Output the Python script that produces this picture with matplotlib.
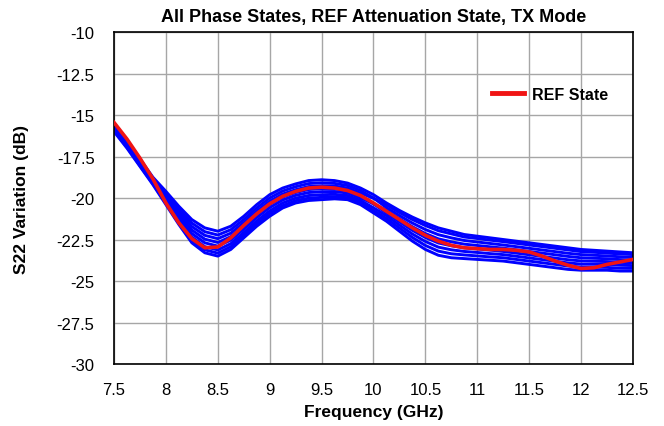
import matplotlib
matplotlib.use("Agg")
import matplotlib.pyplot as plt

plt.rcParams['font.family'] = ['Liberation Sans', 'DejaVu Sans']

# frequency grid (GHz)
freq = [7.5, 7.625, 7.75, 7.875, 8.0, 8.125, 8.25, 8.375, 8.5, 8.625,
        8.75, 8.875, 9.0, 9.125, 9.25, 9.375, 9.5, 9.625, 9.75, 9.875,
        10.0, 10.125, 10.25, 10.375, 10.5, 10.625, 10.75, 10.875, 11.0, 11.125,
        11.25, 11.375, 11.5, 11.625, 11.75, 11.875, 12.0, 12.125, 12.25, 12.375,
        12.5]

# reference state S22 (dB)
ref_state = [-15.45, -16.45, -17.6, -18.85, -20.3, -21.5, -22.45, -23.0, -22.95, -22.4,
             -21.65, -20.95, -20.35, -19.9, -19.6, -19.4, -19.35, -19.4, -19.55, -19.85,
             -20.3, -20.8, -21.3, -21.8, -22.25, -22.6, -22.85, -23.0, -23.05, -23.1,
             -23.1, -23.15, -23.25, -23.5, -23.8, -24.05, -24.25, -24.2, -24.0, -23.85,
             -23.7]

# phase states S22 (dB)
phase_a = [-15.5, -16.5, -17.65, -18.75, -19.6, -20.5, -21.3, -21.8, -22.0, -21.7,
           -21.1, -20.4, -19.8, -19.4, -19.15, -18.95, -18.9, -18.95, -19.1, -19.4,
           -19.8, -20.3, -20.75, -21.15, -21.5, -21.8, -22.0, -22.2, -22.3, -22.4,
           -22.5, -22.6, -22.7, -22.8, -22.9, -23.0, -23.1, -23.15, -23.2, -23.25,
           -23.3]
phase_b = [-15.58, -16.58, -17.72, -18.82, -19.72, -20.67, -21.51, -22.03, -22.23, -21.91,
           -21.3, -20.6, -20.0, -19.58, -19.32, -19.13, -19.08, -19.12, -19.25, -19.55,
           -20.0, -20.58, -21.06, -21.51, -21.9, -22.21, -22.4, -22.56, -22.65, -22.74,
           -22.83, -22.93, -23.03, -23.13, -23.23, -23.33, -23.41, -23.45, -23.49, -23.54,
           -23.58]
phase_c = [-15.65, -16.65, -17.79, -18.89, -19.84, -20.83, -21.72, -22.25, -22.45, -22.12,
           -21.49, -20.79, -20.19, -19.76, -19.5, -19.31, -19.26, -19.28, -19.4, -19.7,
           -20.02, -20.41, -20.88, -21.3, -21.66, -21.97, -22.16, -22.35, -22.44, -22.54,
           -22.63, -22.73, -22.83, -22.93, -23.03, -23.13, -23.23, -23.27, -23.32, -23.37,
           -23.41]
phase_d = [-15.73, -16.73, -17.85, -18.95, -19.96, -21.0, -21.93, -22.48, -22.68, -22.33,
           -21.69, -20.99, -20.39, -19.94, -19.67, -19.49, -19.44, -19.45, -19.55, -19.85,
           -20.35, -20.91, -21.44, -21.95, -22.38, -22.71, -22.88, -23.0, -23.07, -23.14,
           -23.22, -23.32, -23.42, -23.52, -23.62, -23.72, -23.79, -23.81, -23.83, -23.88,
           -23.9]
phase_e = [-15.8, -16.8, -17.92, -19.02, -20.08, -21.16, -22.14, -22.7, -22.9, -22.54,
           -21.88, -21.18, -20.58, -20.12, -19.84, -19.67, -19.62, -19.61, -19.7, -20.0,
           -20.35, -20.74, -21.25, -21.73, -22.14, -22.46, -22.64, -22.78, -22.86, -22.94,
           -23.02, -23.12, -23.22, -23.32, -23.42, -23.52, -23.6, -23.63, -23.66, -23.71,
           -23.74]
phase_f = [-15.88, -16.88, -17.99, -19.09, -20.2, -21.33, -22.35, -22.93, -23.13, -22.75,
           -22.08, -21.38, -20.78, -20.3, -20.01, -19.85, -19.8, -19.78, -19.85, -20.15,
           -20.59, -21.07, -21.63, -22.17, -22.62, -22.96, -23.12, -23.22, -23.28, -23.35,
           -23.41, -23.51, -23.61, -23.71, -23.81, -23.91, -23.98, -23.99, -24.0, -24.05,
           -24.07]
phase_g = [-15.94, -16.94, -18.05, -19.15, -20.3, -21.47, -22.53, -23.12, -23.32, -22.93,
           -22.24, -21.54, -20.94, -20.46, -20.16, -20.01, -19.96, -19.92, -19.98, -20.28,
           -20.75, -21.24, -21.81, -22.38, -22.86, -23.2, -23.36, -23.43, -23.49, -23.55,
           -23.6, -23.7, -23.8, -23.9, -24.0, -24.1, -24.16, -24.17, -24.18, -24.23,
           -24.24]
phase_h = [-16.0, -17.0, -18.1, -19.2, -20.4, -21.6, -22.7, -23.3, -23.5, -23.1,
           -22.4, -21.7, -21.1, -20.6, -20.3, -20.15, -20.1, -20.05, -20.1, -20.4,
           -20.9, -21.4, -22.0, -22.6, -23.1, -23.45, -23.6, -23.65, -23.7, -23.75,
           -23.8, -23.9, -24.0, -24.1, -24.2, -24.3, -24.35, -24.35, -24.35, -24.4,
           -24.4]

phase_states = [phase_a, phase_b, phase_c, phase_d, phase_e, phase_f, phase_g, phase_h]

x_ticks = [7.5, 8, 8.5, 9, 9.5, 10, 10.5, 11, 11.5, 12, 12.5]
y_ticks = [-10, -12.5, -15, -17.5, -20, -22.5, -25, -27.5, -30]

fig = plt.figure(figsize=(6.64, 4.27), dpi=100)
ax = fig.add_axes([0.1717, 0.1452, 0.7816, 0.7775])

for s22 in phase_states:
    ax.plot(freq, s22, color='#0000ff', lw=2.1, zorder=2)

ax.plot(freq, ref_state, color='#f01414', lw=2.6, label='REF State', zorder=3)

ax.set_xlim(7.5, 12.5)
ax.set_ylim(-30, -10)
ax.set_xticks(x_ticks)
ax.set_xticklabels(['7.5', '8', '8.5', '9', '9.5', '10', '10.5', '11', '11.5', '12', '12.5'])
ax.set_yticks(y_ticks)
ax.set_yticklabels(['-10', '-12.5', '-15', '-17.5', '-20', '-22.5', '-25', '-27.5', '-30'])
ax.tick_params(length=0, labelsize=12)
ax.tick_params(axis='x', pad=13)
ax.tick_params(axis='y', pad=14)
ax.grid(True, color='#a6a6a6', lw=1.0, zorder=0)
ax.set_axisbelow(True)
for sp in ax.spines.values():
    sp.set_color('black')
    sp.set_linewidth(1.2)

ax.set_title('All Phase States, REF Attenuation State, TX Mode',
             fontsize=13, fontweight='bold', pad=8)
ax.set_xlabel('Frequency (GHz)', fontsize=12.5, fontweight='bold', labelpad=5)
ax.set_ylabel('S22 Variation (dB)', fontsize=12.5, fontweight='bold', labelpad=20)

leg = ax.legend(loc='center left', bbox_to_anchor=(0.728, 0.813), frameon=False,
                borderpad=0, borderaxespad=0, handlelength=2.0, handletextpad=0.5,
                prop={'weight': 'bold', 'size': 11.5})
for line in leg.get_lines():
    line.set_linewidth(3.5)

fig.savefig('out.png', dpi=100)
